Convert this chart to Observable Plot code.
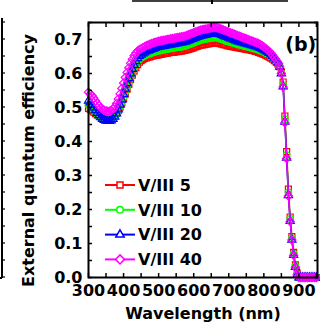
<!DOCTYPE html>
<html>
<head>
<meta charset="utf-8">
<script src="https://cdn.jsdelivr.net/npm/d3@7"></script>
<script src="https://cdn.jsdelivr.net/npm/@observablehq/plot@0.6"></script>
<style>
  html, body { margin: 0; padding: 0; background: white; }
  #chart svg { display: block; overflow: visible; }
</style>
</head>
<body>
<div id="chart"></div>
<script>
const wavelength = [
  300,305,310,315,320,325,330,335,340,345,
  350,355,360,365,370,375,380,385,390,395,
  400,405,410,415,420,425,430,435,440,445,
  450,455,460,465,470,475,480,485,490,495,
  500,505,510,515,520,525,530,535,540,545,
  550,555,560,565,570,575,580,585,590,595,
  600,605,610,615,620,625,630,635,640,645,
  650,655,660,665,670,675,680,685,690,695,
  700,705,710,715,720,725,730,735,740,745,
  750,755,760,765,770,775,780,785,790,795,
  800,805,810,815,820,825,830,835,840,845,
  850,855,860,865,870,875,880,885,890,895,
  900,905,910,915,920,925,930,935,940,945,
  950
];
const eqe5 = [
  0.497,0.494,0.490,0.486,0.482,0.478,0.475,0.473,0.471,0.470,
  0.469,0.469,0.469,0.470,0.473,0.477,0.483,0.491,0.501,0.513,
  0.526,0.540,0.554,0.568,0.582,0.595,0.607,0.617,0.626,0.633,
  0.638,0.641,0.644,0.646,0.648,0.649,0.651,0.652,0.653,0.654,
  0.655,0.656,0.657,0.658,0.659,0.660,0.661,0.662,0.662,0.663,
  0.664,0.664,0.665,0.666,0.667,0.668,0.669,0.671,0.672,0.674,
  0.676,0.678,0.680,0.682,0.683,0.684,0.685,0.686,0.687,0.688,
  0.689,0.689,0.690,0.690,0.689,0.688,0.686,0.685,0.684,0.682,
  0.681,0.680,0.679,0.678,0.677,0.676,0.675,0.674,0.673,0.672,
  0.671,0.670,0.669,0.668,0.667,0.665,0.664,0.662,0.660,0.658,
  0.656,0.654,0.651,0.648,0.645,0.642,0.638,0.634,0.628,0.620,
  0.605,0.575,0.475,0.370,0.260,0.178,0.120,0.074,0.037,0.012,
  0,0,0,0,0,0,0,0,0,0,
  0
];
const eqe10 = [
  0.508,0.504,0.499,0.493,0.487,0.481,0.476,0.472,0.469,0.467,
  0.465,0.465,0.465,0.467,0.470,0.475,0.482,0.492,0.504,0.517,
  0.531,0.546,0.561,0.576,0.590,0.603,0.615,0.626,0.635,0.641,
  0.646,0.650,0.653,0.655,0.657,0.659,0.661,0.663,0.664,0.666,
  0.667,0.668,0.669,0.670,0.671,0.672,0.673,0.674,0.675,0.676,
  0.677,0.678,0.678,0.679,0.680,0.681,0.683,0.685,0.687,0.689,
  0.691,0.693,0.695,0.697,0.699,0.700,0.701,0.702,0.703,0.704,
  0.705,0.705,0.706,0.706,0.705,0.703,0.701,0.699,0.697,0.695,
  0.694,0.692,0.691,0.689,0.688,0.686,0.685,0.684,0.682,0.681,
  0.680,0.679,0.677,0.676,0.675,0.673,0.672,0.670,0.668,0.666,
  0.664,0.661,0.658,0.655,0.651,0.647,0.642,0.637,0.630,0.620,
  0.602,0.566,0.465,0.360,0.250,0.172,0.116,0.070,0.034,0.010,
  0,0,0,0,0,0,0,0,0,0,
  0
];
const eqe20 = [
  0.520,0.515,0.508,0.500,0.492,0.484,0.477,0.471,0.466,0.463,
  0.461,0.460,0.460,0.462,0.466,0.473,0.482,0.494,0.508,0.523,
  0.539,0.555,0.571,0.586,0.600,0.613,0.625,0.636,0.645,0.651,
  0.655,0.659,0.662,0.665,0.667,0.669,0.671,0.673,0.675,0.677,
  0.678,0.679,0.680,0.681,0.682,0.683,0.684,0.685,0.686,0.687,
  0.688,0.689,0.690,0.691,0.692,0.693,0.695,0.697,0.699,0.701,
  0.703,0.705,0.707,0.709,0.711,0.712,0.713,0.714,0.715,0.716,
  0.717,0.718,0.718,0.718,0.717,0.715,0.713,0.711,0.709,0.707,
  0.705,0.703,0.701,0.699,0.697,0.695,0.694,0.692,0.691,0.689,
  0.688,0.686,0.685,0.683,0.682,0.680,0.679,0.677,0.675,0.673,
  0.670,0.667,0.664,0.660,0.656,0.651,0.646,0.640,0.632,0.620,
  0.600,0.562,0.458,0.352,0.242,0.166,0.111,0.066,0.031,0.008,
  0,0,0,0,0,0,0,0,0,0,
  0
];
const eqe40 = [
  0.545,0.540,0.535,0.528,0.520,0.512,0.505,0.499,0.495,0.492,
  0.490,0.489,0.489,0.491,0.495,0.502,0.512,0.525,0.540,0.556,
  0.572,0.588,0.603,0.617,0.630,0.642,0.652,0.660,0.666,0.670,
  0.673,0.676,0.679,0.682,0.684,0.686,0.688,0.690,0.692,0.693,
  0.695,0.696,0.697,0.698,0.699,0.700,0.701,0.702,0.703,0.704,
  0.705,0.706,0.707,0.708,0.709,0.710,0.712,0.714,0.716,0.718,
  0.720,0.722,0.724,0.726,0.728,0.729,0.730,0.731,0.732,0.733,
  0.734,0.735,0.735,0.735,0.734,0.732,0.730,0.728,0.726,0.724,
  0.722,0.720,0.718,0.716,0.714,0.712,0.710,0.708,0.706,0.704,
  0.702,0.700,0.698,0.696,0.694,0.692,0.690,0.688,0.685,0.682,
  0.678,0.674,0.670,0.665,0.660,0.654,0.647,0.640,0.632,0.620,
  0.600,0.560,0.455,0.350,0.240,0.165,0.110,0.065,0.030,0.008,
  0,0,0,0,0,0,0,0,0,0,
  0
];

const seriesNames = ["V/III 5", "V/III 10", "V/III 20", "V/III 40"];
const seriesValues = [eqe5, eqe10, eqe20, eqe40];
const seriesColors = ["#ff0000", "#00ff00", "#0000ff", "#ff00ff"];
const seriesSymbols = ["square2", "circle", "triangle2", "diamond2"];
const seriesR = [3.8, 3.3, 3.9, 3.7];

const xTickValues = [300, 400, 500, 600, 700, 800, 900];
const xMinorValues = [300, 350, 400, 450, 500, 550, 600, 650, 700, 750, 800, 850, 900, 950];
const yTickValues = [0, 0.1, 0.2, 0.3, 0.4, 0.5, 0.6, 0.7];
const yMinorValues = [0, 0.05, 0.1, 0.15, 0.2, 0.25, 0.3, 0.35, 0.4, 0.45, 0.5, 0.55, 0.6, 0.65, 0.7, 0.75];

const xLabel = "Wavelength (nm)";
const yLabel = "External quantum efficiency";
const panelLabel = "(b)";

const seriesData = seriesNames.map((name, i) =>
  wavelength.map((w, j) => ({name, w, v: seriesValues[i][j]}))
);

const dataMarks = seriesData.flatMap((rows, i) => [
  Plot.line(rows, {x: "w", y: "v", stroke: seriesColors[i], strokeWidth: 1.5}),
  Plot.dot(rows, {x: "w", y: "v", symbol: seriesSymbols[i], r: seriesR[i],
    stroke: seriesColors[i], fill: "none", strokeWidth: 1.2})
]);

const chart = Plot.plot({
  width: 320,
  height: 325,
  marginLeft: 88,
  marginRight: 3,
  marginTop: 22,
  marginBottom: 48,
  style: {fontFamily: "'DejaVu Sans', sans-serif", fontSize: "16px", fontWeight: "bold", color: "black", background: "white", overflow: "visible"},
  x: {domain: [300, 953], label: null},
  y: {domain: [0, 0.75], label: null},
  marks: [
    ...dataMarks,
    Plot.frame({stroke: "black", strokeWidth: 2}),
    Plot.axisX(xTickValues, {anchor: "bottom", tickSize: 0, tickPadding: 7, tickFormat: d => String(d), label: null}),
    Plot.axisX(xMinorValues, {anchor: "bottom", tickSize: -4, fill: "none", strokeWidth: 1.5}),
    Plot.axisX(xMinorValues, {anchor: "top", tickSize: -4, fill: "none", strokeWidth: 1.5}),
    Plot.axisY(yTickValues, {anchor: "left", tickSize: 0, tickPadding: 6, tickFormat: d => d.toFixed(1), label: null}),
    Plot.axisY(yMinorValues, {anchor: "left", tickSize: -4, fill: "none", strokeWidth: 1.5}),
    Plot.axisY(yMinorValues, {anchor: "right", tickSize: -4, fill: "none", strokeWidth: 1.5}),
    Plot.text([yLabel], {text: d => d, frameAnchor: "left", textAnchor: "middle", lineAnchor: "middle", dx: -59.5, dy: 10.5, rotate: -90, fontSize: 16, fontWeight: "bold"}),
    Plot.text([xLabel], {text: d => d, frameAnchor: "bottom", textAnchor: "middle", lineAnchor: "middle", dy: 36, fontSize: 16, fontWeight: "bold"}),
    Plot.text([panelLabel], {text: d => d, frameAnchor: "top-right", textAnchor: "middle", lineAnchor: "middle", dx: -16.7, dy: 22, fontSize: 19, fontWeight: "bold"})
  ]
});

document.getElementById("chart").appendChild(chart);

// Legend
const svg = d3.select(chart);
const legendSymbols = [d3.symbolSquare2, d3.symbolCircle, d3.symbolTriangle2, d3.symbolDiamond2];
const legendSizes = [46, 34, 50, 52];
const lg = svg.append("g");
seriesNames.forEach((name, i) => {
  const y = 185 + i * 24.8;
  lg.append("line").attr("x1", 105).attr("x2", 135).attr("y1", y).attr("y2", y)
    .attr("stroke", seriesColors[i]).attr("stroke-width", 2);
  lg.append("path").attr("d", d3.symbol(legendSymbols[i], legendSizes[i])())
    .attr("transform", `translate(120,${y})`)
    .attr("fill", "white").attr("stroke", seriesColors[i]).attr("stroke-width", 1.5);
  lg.append("text").attr("x", 138).attr("y", y).attr("dy", "0.36em")
    .attr("text-anchor", "start")
    .attr("font-size", 16).attr("font-weight", "bold").attr("fill", "black").text(name);
});

// Fragments of neighbouring panels at the edges of the crop
const ys = chart.scale("y");
const frag = svg.append("g").attr("stroke", "black").attr("fill", "none");
frag.append("line").attr("x1", 2).attr("x2", 2).attr("y1", 18).attr("y2", 278).attr("stroke-width", 2);
frag.append("line").attr("x1", 0).attr("x2", 2).attr("y1", 278).attr("y2", 278).attr("stroke-width", 2);
yMinorValues.forEach(v => {
  const y = ys.apply(v);
  frag.append("line").attr("x1", 2).attr("x2", 5).attr("y1", y).attr("y2", y).attr("stroke-width", 1.2);
});
frag.append("line").attr("x1", 132).attr("x2", 288).attr("y1", 1).attr("y2", 1).attr("stroke-width", 1.5);
frag.append("line").attr("x1", 212).attr("x2", 212).attr("y1", 0).attr("y2", 4).attr("stroke-width", 2);
</script>
</body>
</html>
